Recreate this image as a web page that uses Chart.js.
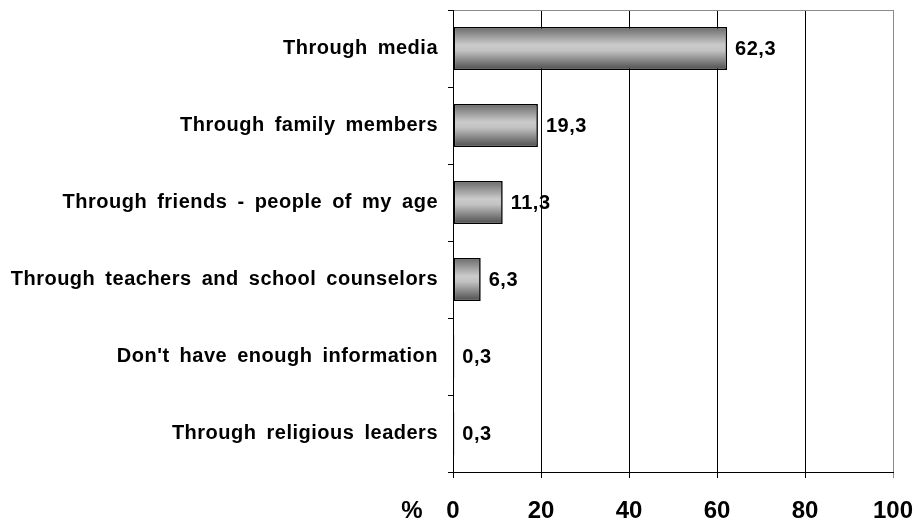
<!DOCTYPE html>
<html>
<head>
<meta charset="utf-8">
<script src="https://cdn.jsdelivr.net/npm/chart.js@4/dist/chart.umd.min.js"></script>
<style>
  html, body { margin: 0; padding: 0; background: #fff; }
  #wrap { width: 918px; height: 523px; }
</style>
</head>
<body>
<div id="wrap"><canvas id="sourcesChart"></canvas></div>
<script>
const categories = [
  "Through media",
  "Through family members",
  "Through friends - people of my age",
  "Through teachers and school counselors",
  "Don't have enough information",
  "Through religious leaders",
];
const percentValues = [62.3, 19.3, 11.3, 6.3, 0.3, 0.3];
const xTicks = [0, 20, 40, 60, 80, 100];

const BAR_FRACTION = 0.56;
const FONT = "'Liberation Sans', Arial, sans-serif";

// cylinder-like grey shading, one gradient per bar
function barGradient(ctx) {
  const chart = ctx.chart;
  const area = chart.chartArea;
  if (!area || ctx.dataIndex === undefined) return "#999";
  const y = chart.scales.y;
  const center = y.getPixelForValue(ctx.dataIndex);
  const half = ((area.bottom - area.top) / categories.length) * BAR_FRACTION / 2;
  const g = chart.ctx.createLinearGradient(0, center - half, 0, center + half);
  g.addColorStop(0, "#6a6a6a");
  g.addColorStop(0.42, "#cbcbcb");
  g.addColorStop(0.55, "#c2c2c2");
  g.addColorStop(1, "#4c4c4c");
  return g;
}

const textStyle = {
  id: "textStyle",
  beforeDraw(chart) {
    chart.ctx.letterSpacing = "0.5px";
    chart.ctx.wordSpacing = "4px";
  },
  afterDatasetsDraw(chart) {
    const ctx = chart.ctx;
    const meta = chart.getDatasetMeta(0);
    ctx.save();
    ctx.font = "bold 20px " + FONT;
    ctx.fillStyle = "#000";
    ctx.textAlign = "left";
    ctx.textBaseline = "middle";
    meta.data.forEach((bar, i) => {
      const txt = percentValues[i].toFixed(1).replace(".", ",");
      ctx.fillText(txt, bar.x + 8, bar.y + 1);
    });
    ctx.restore();
    ctx.letterSpacing = "0px";
    ctx.wordSpacing = "0px";
  },
  afterDraw(chart) {
    const ctx = chart.ctx;
    const x = chart.scales.x;
    ctx.save();
    ctx.letterSpacing = "0px";
    ctx.font = "bold 24px " + FONT;
    ctx.fillStyle = "#000";
    ctx.textAlign = "center";
    ctx.textBaseline = "middle";
    ctx.fillText("%", x.left - 41, x.top + 6 + 19 + 14.4);
    ctx.restore();
  },
};

new Chart(document.getElementById("sourcesChart"), {
  type: "bar",
  data: {
    labels: categories,
    datasets: [
      {
        data: percentValues,
        backgroundColor: barGradient,
        borderColor: "#000",
        borderWidth: 1.6,
        borderSkipped: false,
        barPercentage: BAR_FRACTION,
        categoryPercentage: 1,
      },
    ],
  },
  options: {
    indexAxis: "y",
    responsive: true,
    maintainAspectRatio: false,
    animation: false,
    layout: { padding: { left: 0, right: 25, top: 10, bottom: 0 } },
    plugins: {
      legend: { display: false },
      tooltip: { enabled: false },
    },
    scales: {
      x: {
        min: 0,
        max: 100,
        afterBuildTicks: (scale) => {
          scale.ticks = xTicks.map((v) => ({ value: v }));
        },
        afterFit: (scale) => {
          scale.height = 51;
          scale.paddingLeft = 0;
          scale.paddingRight = 0;
        },
        ticks: {
          z: 1,
          color: "#000",
          padding: 19,
          font: { family: FONT, size: 24, weight: "bold" },
        },
        grid: {
          color: (c) => (c.tick && c.tick.value === 100 ? "#8a8a8a" : "#000"),
          tickColor: (c) => (c.tick && c.tick.value === 100 ? "#8a8a8a" : "#000"),
          tickLength: 6,
          lineWidth: 1,
        },
        border: { color: "#000", width: 1 },
      },
      y: {
        afterFit: (scale) => {
          scale.width = 453;
          scale.paddingTop = 0;
          scale.paddingBottom = 0;
        },
        ticks: {
          color: "#000",
          padding: 10,
          font: { family: FONT, size: 20, weight: "bold" },
        },
        grid: {
          offset: true,
          color: (c) => (c.index === 0 ? "#8a8a8a" : "rgba(0,0,0,0)"),
          tickColor: "#000",
          tickLength: 5,
        },
        border: { color: "#000", width: 1 },
      },
    },
  },
  plugins: [textStyle],
});
</script>
</body>
</html>
